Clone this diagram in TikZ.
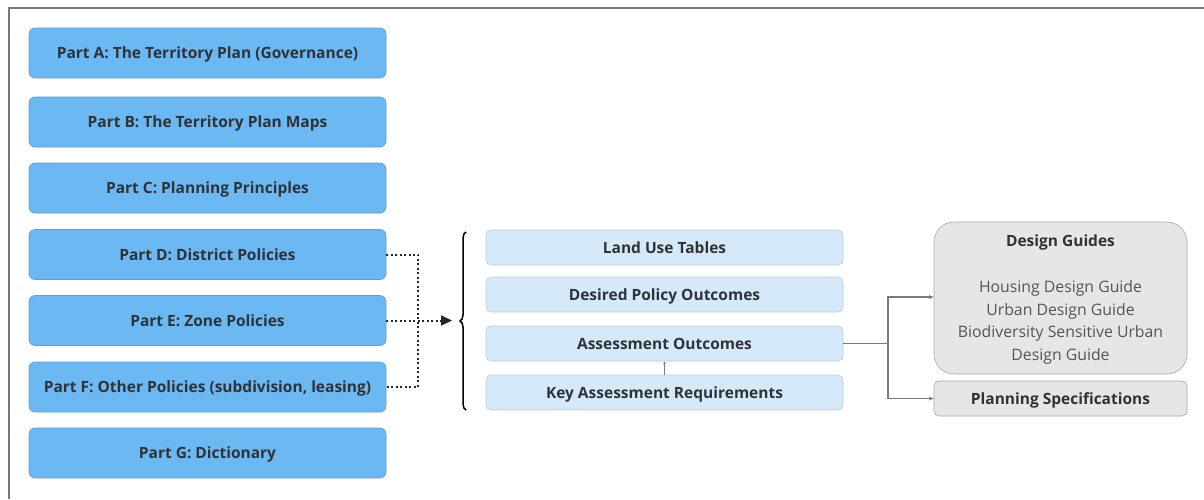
\documentclass[tikz,border=0pt]{standalone}
\usepackage{fontspec}
\setmainfont{Open Sans}
\usetikzlibrary{arrows.meta,decorations.pathreplacing}
\definecolor{partblue}{HTML}{6CB8F2}
\definecolor{partedge}{HTML}{5A9FD6}
\definecolor{lightblue}{HTML}{D6E9F9}
\definecolor{lightedge}{HTML}{B5CFE6}
\definecolor{guidegray}{HTML}{E6E6E6}
\definecolor{guideedge}{HTML}{A8A8A8}
\definecolor{txt}{HTML}{2E3338}
\definecolor{subtxt}{HTML}{555555}
\definecolor{framegray}{HTML}{777777}
\definecolor{linkgray}{HTML}{7A7A7A}
\begin{document}
\begin{tikzpicture}[x=1pt,y=-1pt,
  lbl/.style={font=\fontsize{15.5}{17}\selectfont\bfseries,text=txt,text height=11.2pt,text depth=0pt},
  partbox/.style={lbl,draw=partedge,line width=0.6pt,fill=partblue,rounded corners=6pt,minimum width=357pt,minimum height=50pt,inner sep=0pt},
  subbox/.style={lbl,draw=lightedge,line width=0.6pt,fill=lightblue,rounded corners=5pt,minimum width=357pt,minimum height=35pt,inner sep=0pt},
  graybox/.style={draw=guideedge,line width=0.6pt,fill=guidegray,minimum width=253pt,inner sep=0pt,text=txt},
  dotline/.style={line width=2pt,dash pattern=on 2pt off 2.5pt,black!85},
  link/.style={draw=linkgray,line width=1.2pt},
  linkarrow/.style={link,-{Stealth[length=5pt,width=4pt]}}
]
\useasboundingbox (0,0) rectangle (1204,499);
% frame
\draw[framegray,line width=1.5pt] (9,499) -- (9,8) -- (1204,8);
% left parts
\node[partbox] (A) at (207.5,53) {Part A: The Territory Plan (Governance)};
\node[partbox] (B) at (207.5,122) {Part B: The Territory Plan Maps};
\node[partbox] (C) at (207.5,188) {Part C: Planning Principles};
\node[partbox] (D) at (207.5,254.5) {Part D: District Policies};
\node[partbox] (E) at (207.5,320.5) {Part E: Zone Policies};
\node[partbox] (F) at (207.5,387) {Part F: Other Policies (subdivision, leasing)};
\node[partbox] (G) at (207.5,453) {Part G: Dictionary};
% middle
\node[subbox] (L) at (664.5,247.5) {Land Use Tables};
\node[subbox] (P) at (664.5,294.5) {Desired Policy Outcomes};
\node[subbox] (O) at (664.5,343.5) {Assessment Outcomes};
\node[subbox] (K) at (664.5,392.5) {Key Assessment Requirements};
% right
\node[graybox,rounded corners=20pt,minimum height=152pt] (DG) at (1060.5,298) {};
\node[lbl] (DGt) at (1060.5,241) {Design Guides};
\node[font=\fontsize{15.8}{22.5}\selectfont,text=subtxt,align=center] (DGl) at (1060.5,322.5) {Housing Design Guide\\Urban Design Guide\\Biodiversity Sensitive Urban\\Design Guide};
\node[graybox,lbl,rounded corners=5pt,minimum height=35pt] (PS) at (1060.5,398.5) {Planning Specifications};
% brace
\coordinate (bracetop) at (466,232);
\coordinate (bracebot) at (466,410);
\coordinate (bracetip) at (460,320.5);
\draw[line width=1.5pt,decorate,decoration={brace,amplitude=6pt}] (bracebot) -- (bracetop);
% dotted connectors
\coordinate (j1) at (418,254.5);
\coordinate (j2) at (418,387);
\draw[dotline] (D.east) -- (j1) -- (j2) -- (F.east);
\draw[dotline,-{Triangle[length=11pt,width=10pt]}] (E.east) -- ([xshift=-8pt]bracetip);
% small arrow
\draw[draw=gray,line width=0.8pt,-{Stealth[length=3pt,width=3pt]}] (K.north) -- (O.south);
% right connectors
\coordinate (r0) at (888,343.5);
\coordinate (r1) at (888,297);
\coordinate (r2) at (888,398.5);
\draw[link] (O.east) -- (r0);
\draw[linkarrow] (r0) -- (r1) -- (DG.west |- r1);
\draw[linkarrow] (r0) -- (r2) -- (PS.west);
\end{tikzpicture}
\end{document}
